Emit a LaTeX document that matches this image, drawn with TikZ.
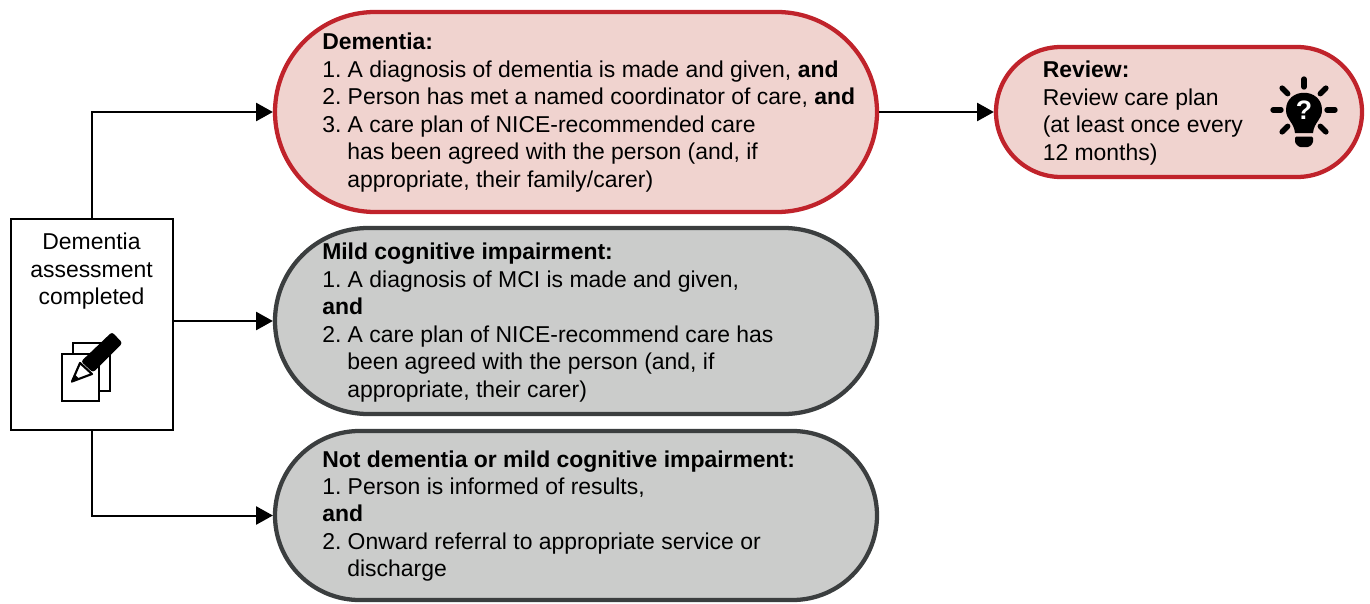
\documentclass[tikz,border=0pt]{standalone}
\usepackage{fontspec}
\setmainfont{Liberation Sans}
\usetikzlibrary{arrows.meta,shapes.misc,calc}

\definecolor{pillred}{HTML}{C0232B}
\definecolor{pillpink}{HTML}{F0D3CF}
\definecolor{pilldark}{HTML}{3B3E3F}
\definecolor{pillgrey}{HTML}{CBCCCB}

\tikzset{
  pill/.style={rounded rectangle,line width=3.2pt,inner sep=0pt},
  redpill/.style={pill,draw=pillred,fill=pillpink},
  greypill/.style={pill,draw=pilldark,fill=pillgrey},
  pilltext/.style={anchor=west,align=left,inner sep=0pt,font=\fontsize{17.2}{20.6}\selectfont\frenchspacing},
  link/.style={line width=1.5pt,-{Triangle[length=12.5pt,width=13.5pt]}}
}

\begin{document}
\begin{tikzpicture}[x=0.75pt,y=0.75pt,yscale=-1]
\useasboundingbox (0,0) rectangle (1370,603);

% boxes
\node [draw,line width=1.5pt,fill=white,minimum width=121.5pt,minimum height=158.25pt,inner sep=0pt] (assess) at (91.5,324) {};
\node [redpill,minimum width=451.5pt,minimum height=150pt] (dementia) at (576,112) {};
\node [greypill,minimum width=451.5pt,minimum height=139.5pt] (mci) at (576,321) {};
\node [greypill,minimum width=451.5pt,minimum height=126.75pt] (notdem) at (576,515.5) {};
\node [redpill,minimum width=274.5pt,minimum height=97.5pt] (review) at (1179,112) {};

% texts
\node [pilltext,anchor=center,align=center] (assesstext) at (91.5,271.5) {Dementia\\assessment\\completed};
\node [pilltext] (dementiatext) at (322,112.5) {\textbf{Dementia:}\\
1. A diagnosis of dementia is made and given, \textbf{and}\\
2. Person has met a named coordinator of care, \textbf{and}\\
3. A care plan of NICE-recommended care\\
\hspace*{18.8pt}has been agreed with the person (and, if\\
\hspace*{18.8pt}appropriate, their family/carer)};
\node [pilltext] (mcitext) at (322,322.5) {\textbf{Mild cognitive impairment:}\\
1. A diagnosis of MCI is made and given,\\
\textbf{and}\\
2. A care plan of NICE-recommend care has\\
\hspace*{18.8pt}been agreed with the person (and, if\\
\hspace*{18.8pt}appropriate, their carer)};
\node [pilltext] (notdemtext) at (322,516) {\textbf{Not dementia or mild cognitive impairment:}\\
1. Person is informed of results,\\
\textbf{and}\\
2. Onward referral to appropriate service or\\
\hspace*{18.8pt}discharge};
\node [pilltext] (reviewtext) at (1042.5,113) {\textbf{Review:}\\
Review care plan\\
(at least once every\\
12 months)};

% arrows
\draw [link] (assess.north) |- (dementia.west);
\draw [link] (assess.east |- mci.west) -- (mci.west);
\draw [link] (assess.south) |- (notdem.west);
\draw [link] (dementia.east) -- (review.west);

% pages and pencil
\draw [line width=1.5pt,fill=white] (73,343) rectangle (109.5,390.5);
\draw [line width=1.5pt,fill=white] (61.5,353.5) rectangle (98.5,401);
\draw [line width=1.6pt,fill=white,line join=round] (72,381.5) -- (80,363) -- (92,374) -- cycle;
\fill (71,382.5) -- (74.5,374) -- (79.5,379) -- cycle;
\fill [rounded corners=2pt] (81,361.5) -- (112,332) -- (122.5,343) -- (93,372.5) -- cycle;

% bulb
\foreach \a in {0,45,...,315} {
  \ifnum\a=90 \else
    \draw [line width=4pt,line cap=round] ($(1304,110)+(\a:23)$) -- ($(1304,110)+(\a:31)$);
  \fi
}
\fill (1295,133) .. controls (1294,122) and (1286,120) .. (1286,110) .. controls (1286,87) and (1322,87) .. (1322,110) .. controls (1322,120) and (1314,122) .. (1313,133) -- cycle;
\fill [rounded corners=1pt] (1295,136.5) -- (1313,136.5) -- (1313,143) -- (1309,147) -- (1299,147) -- (1295,143) -- cycle;
\node [inner sep=0pt,text=white,font=\fontsize{20}{20}\selectfont\bfseries] (mark) at (1304,110) {?};
\end{tikzpicture}
\end{document}
